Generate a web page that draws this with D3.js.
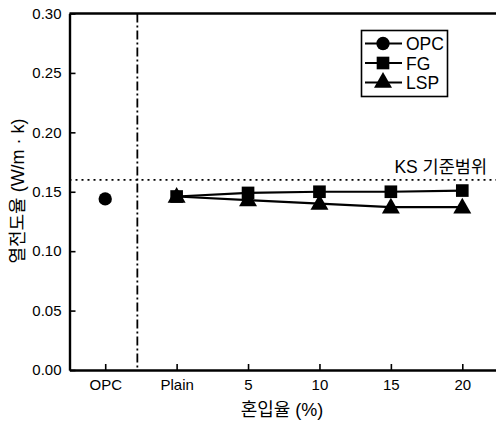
<!DOCTYPE html>
<html>
<head>
<meta charset="utf-8">
<script src="https://cdn.jsdelivr.net/npm/d3@7"></script>
<style>
  html, body { margin: 0; padding: 0; background: #fff; }
  svg { display: block; }
  text { font-family: "Liberation Sans", Arial, "Noto Sans CJK KR", sans-serif; fill: #000; }
  .kr { font-family: "Liberation Sans", "Noto Sans CJK KR", sans-serif; }
</style>
</head>
<body>
<svg id="chart" width="496" height="423"></svg>
<script>
// Categories along the x axis
const categories = ["OPC", "Plain", "5", "10", "15", "20"];
// Thermal conductivity (W/m·k)
const opcValues = [0.144];
const fgValues  = [0.146, 0.149, 0.150, 0.150, 0.151];
const lspValues = [0.146, 0.143, 0.140, 0.137, 0.137];
const ksLimit = 0.16;
const yTicks = [0.00, 0.05, 0.10, 0.15, 0.20, 0.25, 0.30];
const seriesNames = ["OPC", "FG", "LSP"];

const svg = d3.select("#chart");
const mLeft = 69.5, mTop = 13.5, mBottom = 370, plotRight = 498;

const x = d3.scaleLinear().domain([-0.5, 5.5]).range([mLeft, plotRight]);
const y = d3.scaleLinear().domain([0, 0.30]).range([mBottom, mTop]);

// Axes with inward ticks
const yAxis = d3.axisLeft(y).tickValues(yTicks).tickFormat(d3.format(".2f")).tickSizeInner(-6).tickSizeOuter(0).tickPadding(8);
const gy = svg.append("g").attr("transform", `translate(${mLeft},0)`).call(yAxis);
gy.select(".domain").attr("stroke", "#000").attr("stroke-width", 2.4);
gy.selectAll(".tick line").attr("stroke-width", 1.6);
gy.selectAll(".tick text").attr("font-size", 15).attr("font-family", "Liberation Sans, Arial, sans-serif");

const xAxis = d3.axisBottom(x).tickValues(d3.range(categories.length)).tickFormat(i => categories[i]).tickSizeInner(-6).tickSizeOuter(0).tickPadding(9);
const gx = svg.append("g").attr("transform", `translate(0,${mBottom})`).call(xAxis);
gx.select(".domain").attr("stroke", "#000").attr("stroke-width", 2.4);
gx.selectAll(".tick line").attr("stroke-width", 1.6);
gx.selectAll(".tick text").attr("font-size", 15).attr("font-family", "Liberation Sans, Arial, sans-serif");

// Top frame line
svg.append("line").attr("x1", mLeft).attr("x2", plotRight).attr("y1", y(0.30)).attr("y2", y(0.30))
  .attr("stroke", "#000").attr("stroke-width", 2.4);

// Separator between OPC and mixed series
svg.append("line").attr("x1", x(0.45)).attr("x2", x(0.45)).attr("y1", y(0.30)).attr("y2", y(0))
  .attr("stroke", "#000").attr("stroke-width", 1.8).attr("stroke-dasharray", "9,3,2,3");

// KS limit
svg.append("line").attr("x1", mLeft).attr("x2", 496).attr("y1", y(ksLimit)).attr("y2", y(ksLimit))
  .attr("stroke", "#000").attr("stroke-width", 1.8).attr("stroke-dasharray", "2,4");
svg.append("text").attr("class", "kr").attr("x", 487).attr("y", y(ksLimit) - 7)
  .attr("text-anchor", "end").attr("font-size", 17.5).text("KS 기준범위");

// Series
const line = d3.line().x(d => x(d.i)).y(d => y(d.v));
const fgPts = fgValues.map((v, k) => ({ i: k + 1, v }));
const lspPts = lspValues.map((v, k) => ({ i: k + 1, v }));
const opcPts = opcValues.map((v, k) => ({ i: k, v }));

svg.append("path").datum(fgPts).attr("d", line).attr("fill", "none").attr("stroke", "#000").attr("stroke-width", 2.2);
svg.append("path").datum(lspPts).attr("d", line).attr("fill", "none").attr("stroke", "#000").attr("stroke-width", 2.2);

const sq = d3.symbol().type(d3.symbolSquare).size(160);
const tri = d3.symbol().type(d3.symbolTriangle).size(140);
const circ = d3.symbol().type(d3.symbolCircle).size(140);

svg.selectAll(".lsp").data(lspPts).join("path").attr("class", "lsp")
  .attr("d", tri).attr("transform", d => `translate(${x(d.i)},${y(d.v) + 1})`).attr("fill", "#000");
svg.selectAll(".fg").data(fgPts).join("path").attr("class", "fg")
  .attr("d", sq).attr("transform", d => `translate(${x(d.i)},${y(d.v)})`).attr("fill", "#000");
svg.selectAll(".opc").data(opcPts).join("path").attr("class", "opc")
  .attr("d", circ).attr("transform", d => `translate(${x(d.i)},${y(d.v)})`).attr("fill", "#000");

// Axis titles
svg.append("text").attr("class", "kr").attr("transform", `translate(24,${191}) rotate(-90)`)
  .attr("text-anchor", "middle").attr("font-size", 18).text("열전도율 (W/m · k)");
svg.append("text").attr("class", "kr").attr("x", 282).attr("y", 416)
  .attr("text-anchor", "middle").attr("font-size", 18).text("혼입율 (%)");

// Legend
const lg = svg.append("g");
lg.append("rect").attr("x", 361.5).attr("y", 30.5).attr("width", 86).attr("height", 66)
  .attr("fill", "#fff").attr("stroke", "#000").attr("stroke-width", 1.6);
const syms = [circ, sq, tri];
seriesNames.forEach((name, k) => {
  const yy = 43.5 + k * 19.5;
  lg.append("line").attr("x1", 365).attr("x2", 402).attr("y1", yy).attr("y2", yy).attr("stroke", "#000").attr("stroke-width", 2.2);
  lg.append("path").attr("d", syms[k]).attr("transform", `translate(383,${yy})`).attr("fill", "#000");
  lg.append("text").attr("x", 406).attr("y", yy + 6.5).attr("font-size", 17.5).text(name);
});
</script>
</body>
</html>
